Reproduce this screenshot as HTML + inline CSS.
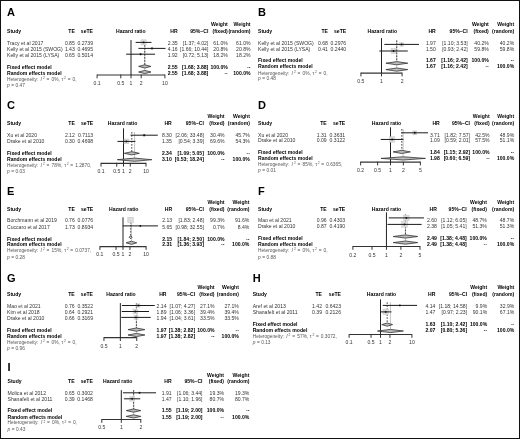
<!DOCTYPE html>
<html><head><meta charset="utf-8"><style>
html,body{margin:0;padding:0;background:#fff;}
svg{display:block;font-family:"Liberation Sans",sans-serif;will-change:transform;}
</style></head><body>
<svg width="520" height="439" viewBox="0 0 520 439">
<rect x="0" y="0" width="520" height="439" fill="#fff"/>
<text x="7.00" y="16.00" font-size="11" font-weight="bold" fill="#000">A</text>
<text x="227.80" y="26.00" font-size="5.1" font-weight="bold" text-anchor="end" fill="#000">Weight</text>
<text x="250.50" y="26.00" font-size="5.1" font-weight="bold" text-anchor="end" fill="#000">Weight</text>
<text x="7.00" y="32.70" font-size="5.1" font-weight="bold" fill="#000">Study</text>
<text x="74.80" y="32.70" font-size="5.1" font-weight="bold" text-anchor="end" fill="#000">TE</text>
<text x="93.00" y="32.70" font-size="5.1" font-weight="bold" text-anchor="end" fill="#000">seTE</text>
<text x="130.80" y="32.70" font-size="5.1" font-weight="bold" text-anchor="middle" fill="#000">Hazard ratio</text>
<text x="177.70" y="32.70" font-size="5.1" font-weight="bold" text-anchor="end" fill="#000">HR</text>
<text x="208.30" y="32.70" font-size="5.1" font-weight="bold" text-anchor="end" fill="#000">95%–CI</text>
<text x="227.80" y="32.70" font-size="5.1" font-weight="bold" text-anchor="end" fill="#000">(fixed)</text>
<text x="250.50" y="32.70" font-size="5.1" font-weight="bold" text-anchor="end" fill="#000">(random)</text>
<text x="7.00" y="44.90" font-size="5.1" fill="#333">Tracy et al 2017</text>
<text x="74.80" y="44.90" font-size="5.1" text-anchor="end" fill="#333">0.85</text>
<text x="93.00" y="44.90" font-size="5.1" text-anchor="end" fill="#333">0.2739</text>
<text x="177.70" y="44.90" font-size="5.1" text-anchor="end" fill="#333">2.35</text>
<text x="208.30" y="44.90" font-size="5.1" text-anchor="end" fill="#333">[1.37; 4.02]</text>
<text x="227.80" y="44.90" font-size="5.1" text-anchor="end" fill="#333">61.0%</text>
<text x="250.50" y="44.90" font-size="5.1" text-anchor="end" fill="#333">61.0%</text>
<text x="7.00" y="50.90" font-size="5.1" fill="#333">Kelly et al 2015 (SWOG)</text>
<text x="74.80" y="50.90" font-size="5.1" text-anchor="end" fill="#333">1.43</text>
<text x="93.00" y="50.90" font-size="5.1" text-anchor="end" fill="#333">0.4695</text>
<text x="177.70" y="50.90" font-size="5.1" text-anchor="end" fill="#333">4.16</text>
<text x="208.30" y="50.90" font-size="5.1" text-anchor="end" fill="#333">[1.66; 10.44]</text>
<text x="227.80" y="50.90" font-size="5.1" text-anchor="end" fill="#333">20.8%</text>
<text x="250.50" y="50.90" font-size="5.1" text-anchor="end" fill="#333">20.8%</text>
<text x="7.00" y="56.80" font-size="5.1" fill="#333">Kelly et al 2015 (LYSA)</text>
<text x="74.80" y="56.80" font-size="5.1" text-anchor="end" fill="#333">0.65</text>
<text x="93.00" y="56.80" font-size="5.1" text-anchor="end" fill="#333">0.5014</text>
<text x="177.70" y="56.80" font-size="5.1" text-anchor="end" fill="#333">1.92</text>
<text x="208.30" y="56.80" font-size="5.1" text-anchor="end" fill="#333">[0.72; 5.13]</text>
<text x="227.80" y="56.80" font-size="5.1" text-anchor="end" fill="#333">18.2%</text>
<text x="250.50" y="56.80" font-size="5.1" text-anchor="end" fill="#333">18.2%</text>
<text x="7.00" y="68.75" font-size="5.1" font-weight="bold" fill="#000">Fixed effect model</text>
<text x="177.70" y="68.75" font-size="5.1" font-weight="bold" text-anchor="end" fill="#000">2.55</text>
<text x="208.30" y="68.75" font-size="5.1" font-weight="bold" text-anchor="end" fill="#000">[1.68; 3.88]</text>
<text x="227.80" y="68.75" font-size="5.1" font-weight="bold" text-anchor="end" fill="#000">100.0%</text>
<text x="250.50" y="68.75" font-size="5.1" font-weight="bold" text-anchor="end" fill="#000">--</text>
<text x="7.00" y="74.60" font-size="5.1" font-weight="bold" fill="#000">Random effects model</text>
<text x="177.70" y="74.60" font-size="5.1" font-weight="bold" text-anchor="end" fill="#000">2.55</text>
<text x="208.30" y="74.60" font-size="5.1" font-weight="bold" text-anchor="end" fill="#000">[1.68; 3.88]</text>
<text x="227.80" y="74.60" font-size="5.1" font-weight="bold" text-anchor="end" fill="#000">--</text>
<text x="250.50" y="74.60" font-size="5.1" font-weight="bold" text-anchor="end" fill="#000">100.0%</text>
<text x="7.00" y="80.60" font-size="4.8" fill="#555">Heterogeneity:</text>
<text x="40.60" y="80.60" font-size="4.8" fill="#555" font-style="italic">I</text>
<text x="42.90" y="78.70" font-size="3.3" fill="#555">2</text>
<text x="46.60" y="80.60" font-size="4.8" fill="#555">=</text>
<text x="51.60" y="80.60" font-size="4.8" fill="#555">0%,</text>
<text x="61.47" y="80.60" font-size="4.8" fill="#555">τ</text>
<text x="64.07" y="78.70" font-size="3.3" fill="#555">2</text>
<text x="67.67" y="80.60" font-size="4.8" fill="#555">=</text>
<text x="72.47" y="80.60" font-size="4.8" fill="#555">0,</text>
<text x="7.00" y="86.50" font-size="4.8" fill="#555" font-style="italic">p</text>
<text x="11.20" y="86.50" font-size="4.8" fill="#555">=</text>
<text x="15.50" y="86.50" font-size="4.8" fill="#555">0.47</text>
<line x1="97.10" y1="75.00" x2="164.90" y2="75.00" stroke="#333" stroke-width="1.2"/>
<line x1="97.10" y1="74.50" x2="97.10" y2="78.30" stroke="#333" stroke-width="1.0"/>
<text x="97.10" y="85.00" font-size="5.1" text-anchor="middle" fill="#333">0.1</text>
<line x1="120.80" y1="74.50" x2="120.80" y2="78.30" stroke="#333" stroke-width="1.0"/>
<text x="120.80" y="85.00" font-size="5.1" text-anchor="middle" fill="#333">0.5</text>
<line x1="131.00" y1="74.50" x2="131.00" y2="78.30" stroke="#333" stroke-width="1.0"/>
<text x="131.00" y="85.00" font-size="5.1" text-anchor="middle" fill="#333">1</text>
<line x1="141.20" y1="74.50" x2="141.20" y2="78.30" stroke="#333" stroke-width="1.0"/>
<text x="141.20" y="85.00" font-size="5.1" text-anchor="middle" fill="#333">2</text>
<line x1="164.90" y1="74.50" x2="164.90" y2="78.30" stroke="#333" stroke-width="1.0"/>
<text x="164.90" y="85.00" font-size="5.1" text-anchor="middle" fill="#333">10</text>
<line x1="131.00" y1="40.00" x2="131.00" y2="75.00" stroke="#222" stroke-width="1.0"/>
<line x1="144.78" y1="42.00" x2="144.78" y2="70.40" stroke="#aaa" stroke-width="0.7"/>
<line x1="144.78" y1="42.00" x2="144.78" y2="64.80" stroke="#222" stroke-width="0.8" stroke-dasharray="1.7,1.3"/>
<rect x="140.98" y="39.80" width="5.20" height="5.20" fill="#dcdcdc" stroke="#c6c6c6" stroke-width="0.5"/>
<line x1="135.63" y1="42.40" x2="151.48" y2="42.40" stroke="#1a1a1a" stroke-width="1.0"/>
<circle cx="143.58" cy="42.40" r="0.95" fill="#111"/>
<rect x="151.14" y="47.55" width="1.70" height="1.70" fill="#dcdcdc" stroke="#c6c6c6" stroke-width="0.5"/>
<line x1="138.46" y1="48.40" x2="165.53" y2="48.40" stroke="#1a1a1a" stroke-width="1.0"/>
<circle cx="151.99" cy="48.40" r="0.95" fill="#111"/>
<rect x="139.85" y="53.45" width="1.50" height="1.50" fill="#dcdcdc" stroke="#c6c6c6" stroke-width="0.5"/>
<line x1="126.16" y1="54.20" x2="155.07" y2="54.20" stroke="#1a1a1a" stroke-width="1.0"/>
<circle cx="140.60" cy="54.20" r="0.95" fill="#111"/>
<polygon points="138.64,66.40 144.78,64.80 150.96,66.40 144.78,68.00" fill="#bdbdbd" stroke="#2a2a2a" stroke-width="0.75"/>
<polygon points="138.64,72.00 144.78,70.40 150.96,72.00 144.78,73.60" fill="#bdbdbd" stroke="#2a2a2a" stroke-width="0.75"/>
<text x="258.00" y="16.00" font-size="11" font-weight="bold" fill="#000">B</text>
<text x="488.80" y="26.00" font-size="5.1" font-weight="bold" text-anchor="end" fill="#000">Weight</text>
<text x="514.20" y="26.00" font-size="5.1" font-weight="bold" text-anchor="end" fill="#000">Weight</text>
<text x="258.00" y="32.70" font-size="5.1" font-weight="bold" fill="#000">Study</text>
<text x="327.90" y="32.70" font-size="5.1" font-weight="bold" text-anchor="end" fill="#000">TE</text>
<text x="346.20" y="32.70" font-size="5.1" font-weight="bold" text-anchor="end" fill="#000">seTE</text>
<text x="382.30" y="32.70" font-size="5.1" font-weight="bold" text-anchor="middle" fill="#000">Hazard ratio</text>
<text x="435.80" y="32.70" font-size="5.1" font-weight="bold" text-anchor="end" fill="#000">HR</text>
<text x="467.70" y="32.70" font-size="5.1" font-weight="bold" text-anchor="end" fill="#000">95%–CI</text>
<text x="488.80" y="32.70" font-size="5.1" font-weight="bold" text-anchor="end" fill="#000">(fixed)</text>
<text x="514.20" y="32.70" font-size="5.1" font-weight="bold" text-anchor="end" fill="#000">(random)</text>
<text x="258.00" y="44.80" font-size="5.1" fill="#333">Kelly et al 2015 (SWOG)</text>
<text x="327.90" y="44.80" font-size="5.1" text-anchor="end" fill="#333">0.68</text>
<text x="346.20" y="44.80" font-size="5.1" text-anchor="end" fill="#333">0.2976</text>
<text x="435.80" y="44.80" font-size="5.1" text-anchor="end" fill="#333">1.97</text>
<text x="467.70" y="44.80" font-size="5.1" text-anchor="end" fill="#333">[1.10; 3.53]</text>
<text x="488.80" y="44.80" font-size="5.1" text-anchor="end" fill="#333">40.2%</text>
<text x="514.20" y="44.80" font-size="5.1" text-anchor="end" fill="#333">40.2%</text>
<text x="258.00" y="50.50" font-size="5.1" fill="#333">Kelly et al 2015 (LYSA)</text>
<text x="327.90" y="50.50" font-size="5.1" text-anchor="end" fill="#333">0.41</text>
<text x="346.20" y="50.50" font-size="5.1" text-anchor="end" fill="#333">0.2440</text>
<text x="435.80" y="50.50" font-size="5.1" text-anchor="end" fill="#333">1.50</text>
<text x="467.70" y="50.50" font-size="5.1" text-anchor="end" fill="#333">[0.93; 2.42]</text>
<text x="488.80" y="50.50" font-size="5.1" text-anchor="end" fill="#333">59.8%</text>
<text x="514.20" y="50.50" font-size="5.1" text-anchor="end" fill="#333">59.8%</text>
<text x="258.00" y="62.40" font-size="5.1" font-weight="bold" fill="#000">Fixed effect model</text>
<text x="435.80" y="62.40" font-size="5.1" font-weight="bold" text-anchor="end" fill="#000">1.67</text>
<text x="467.70" y="62.40" font-size="5.1" font-weight="bold" text-anchor="end" fill="#000">[1.16; 2.42]</text>
<text x="488.80" y="62.40" font-size="5.1" font-weight="bold" text-anchor="end" fill="#000">100.0%</text>
<text x="514.20" y="62.40" font-size="5.1" font-weight="bold" text-anchor="end" fill="#000">--</text>
<text x="258.00" y="68.30" font-size="5.1" font-weight="bold" fill="#000">Random effects model</text>
<text x="435.80" y="68.30" font-size="5.1" font-weight="bold" text-anchor="end" fill="#000">1.67</text>
<text x="467.70" y="68.30" font-size="5.1" font-weight="bold" text-anchor="end" fill="#000">[1.16; 2.42]</text>
<text x="488.80" y="68.30" font-size="5.1" font-weight="bold" text-anchor="end" fill="#000">--</text>
<text x="514.20" y="68.30" font-size="5.1" font-weight="bold" text-anchor="end" fill="#000">100.0%</text>
<text x="258.00" y="74.50" font-size="4.8" fill="#555">Heterogeneity:</text>
<text x="291.60" y="74.50" font-size="4.8" fill="#555" font-style="italic">I</text>
<text x="293.90" y="72.60" font-size="3.3" fill="#555">2</text>
<text x="297.60" y="74.50" font-size="4.8" fill="#555">=</text>
<text x="302.60" y="74.50" font-size="4.8" fill="#555">0%,</text>
<text x="312.47" y="74.50" font-size="4.8" fill="#555">τ</text>
<text x="315.07" y="72.60" font-size="3.3" fill="#555">2</text>
<text x="318.67" y="74.50" font-size="4.8" fill="#555">=</text>
<text x="323.47" y="74.50" font-size="4.8" fill="#555">0,</text>
<text x="258.00" y="80.40" font-size="4.8" fill="#555" font-style="italic">p</text>
<text x="262.20" y="80.40" font-size="4.8" fill="#555">=</text>
<text x="266.50" y="80.40" font-size="4.8" fill="#555">0.48</text>
<line x1="360.91" y1="73.10" x2="402.09" y2="73.10" stroke="#333" stroke-width="1.2"/>
<line x1="360.91" y1="72.60" x2="360.91" y2="76.40" stroke="#333" stroke-width="1.0"/>
<text x="360.91" y="83.10" font-size="5.1" text-anchor="middle" fill="#333">0.5</text>
<line x1="381.50" y1="72.60" x2="381.50" y2="76.40" stroke="#333" stroke-width="1.0"/>
<text x="381.50" y="83.10" font-size="5.1" text-anchor="middle" fill="#333">1</text>
<line x1="402.09" y1="72.60" x2="402.09" y2="76.40" stroke="#333" stroke-width="1.0"/>
<text x="402.09" y="83.10" font-size="5.1" text-anchor="middle" fill="#333">2</text>
<line x1="381.50" y1="38.10" x2="381.50" y2="73.10" stroke="#222" stroke-width="1.0"/>
<line x1="396.73" y1="40.40" x2="396.73" y2="68.00" stroke="#aaa" stroke-width="0.7"/>
<line x1="396.73" y1="40.40" x2="396.73" y2="61.60" stroke="#222" stroke-width="0.8" stroke-dasharray="1.7,1.3"/>
<rect x="399.84" y="42.60" width="3.60" height="3.60" fill="#dcdcdc" stroke="#c6c6c6" stroke-width="0.5"/>
<line x1="384.33" y1="44.40" x2="418.97" y2="44.40" stroke="#1a1a1a" stroke-width="1.0"/>
<circle cx="401.64" cy="44.40" r="0.95" fill="#111"/>
<rect x="391.14" y="48.60" width="4.80" height="4.80" fill="#dcdcdc" stroke="#c6c6c6" stroke-width="0.5"/>
<line x1="379.34" y1="51.00" x2="407.75" y2="51.00" stroke="#1a1a1a" stroke-width="1.0"/>
<circle cx="393.54" cy="51.00" r="0.95" fill="#111"/>
<polygon points="385.91,63.20 396.73,61.60 407.75,63.20 396.73,64.80" fill="#bdbdbd" stroke="#2a2a2a" stroke-width="0.75"/>
<polygon points="385.91,69.60 396.73,68.00 407.75,69.60 396.73,71.20" fill="#bdbdbd" stroke="#2a2a2a" stroke-width="0.75"/>
<text x="7.00" y="109.00" font-size="11" font-weight="bold" fill="#000">C</text>
<text x="224.50" y="118.00" font-size="5.1" font-weight="bold" text-anchor="end" fill="#000">Weight</text>
<text x="249.90" y="118.00" font-size="5.1" font-weight="bold" text-anchor="end" fill="#000">Weight</text>
<text x="7.00" y="124.70" font-size="5.1" font-weight="bold" fill="#000">Study</text>
<text x="74.80" y="124.70" font-size="5.1" font-weight="bold" text-anchor="end" fill="#000">TE</text>
<text x="93.20" y="124.70" font-size="5.1" font-weight="bold" text-anchor="end" fill="#000">seTE</text>
<text x="122.60" y="124.70" font-size="5.1" font-weight="bold" text-anchor="middle" fill="#000">Hazard ratio</text>
<text x="171.80" y="124.70" font-size="5.1" font-weight="bold" text-anchor="end" fill="#000">HR</text>
<text x="203.90" y="124.70" font-size="5.1" font-weight="bold" text-anchor="end" fill="#000">95%–CI</text>
<text x="224.50" y="124.70" font-size="5.1" font-weight="bold" text-anchor="end" fill="#000">(fixed)</text>
<text x="249.90" y="124.70" font-size="5.1" font-weight="bold" text-anchor="end" fill="#000">(random)</text>
<text x="7.00" y="136.60" font-size="5.1" fill="#333">Xu et al 2020</text>
<text x="74.80" y="136.60" font-size="5.1" text-anchor="end" fill="#333">2.12</text>
<text x="93.20" y="136.60" font-size="5.1" text-anchor="end" fill="#333">0.7113</text>
<text x="171.80" y="136.60" font-size="5.1" text-anchor="end" fill="#333">8.30</text>
<text x="203.90" y="136.60" font-size="5.1" text-anchor="end" fill="#333">[2.06; 33.48]</text>
<text x="224.50" y="136.60" font-size="5.1" text-anchor="end" fill="#333">30.4%</text>
<text x="249.90" y="136.60" font-size="5.1" text-anchor="end" fill="#333">45.7%</text>
<text x="7.00" y="142.60" font-size="5.1" fill="#333">Drake et al 2010</text>
<text x="74.80" y="142.60" font-size="5.1" text-anchor="end" fill="#333">0.30</text>
<text x="93.20" y="142.60" font-size="5.1" text-anchor="end" fill="#333">0.4698</text>
<text x="171.80" y="142.60" font-size="5.1" text-anchor="end" fill="#333">1.35</text>
<text x="203.90" y="142.60" font-size="5.1" text-anchor="end" fill="#333">[0.54; 3.39]</text>
<text x="224.50" y="142.60" font-size="5.1" text-anchor="end" fill="#333">69.6%</text>
<text x="249.90" y="142.60" font-size="5.1" text-anchor="end" fill="#333">54.3%</text>
<text x="7.00" y="154.50" font-size="5.1" font-weight="bold" fill="#000">Fixed effect model</text>
<text x="171.80" y="154.50" font-size="5.1" font-weight="bold" text-anchor="end" fill="#000">2.34</text>
<text x="203.90" y="154.50" font-size="5.1" font-weight="bold" text-anchor="end" fill="#000">[1.09; 5.05]</text>
<text x="224.50" y="154.50" font-size="5.1" font-weight="bold" text-anchor="end" fill="#000">100.0%</text>
<text x="249.90" y="154.50" font-size="5.1" font-weight="bold" text-anchor="end" fill="#000">--</text>
<text x="7.00" y="160.60" font-size="5.1" font-weight="bold" fill="#000">Random effects model</text>
<text x="171.80" y="160.60" font-size="5.1" font-weight="bold" text-anchor="end" fill="#000">3.10</text>
<text x="203.90" y="160.60" font-size="5.1" font-weight="bold" text-anchor="end" fill="#000">[0.53; 18.24]</text>
<text x="224.50" y="160.60" font-size="5.1" font-weight="bold" text-anchor="end" fill="#000">--</text>
<text x="249.90" y="160.60" font-size="5.1" font-weight="bold" text-anchor="end" fill="#000">100.0%</text>
<text x="7.00" y="166.50" font-size="4.8" fill="#555">Heterogeneity:</text>
<text x="40.60" y="166.50" font-size="4.8" fill="#555" font-style="italic">I</text>
<text x="42.90" y="164.60" font-size="3.3" fill="#555">2</text>
<text x="46.60" y="166.50" font-size="4.8" fill="#555">=</text>
<text x="51.60" y="166.50" font-size="4.8" fill="#555">78%,</text>
<text x="64.14" y="166.50" font-size="4.8" fill="#555">τ</text>
<text x="66.74" y="164.60" font-size="3.3" fill="#555">2</text>
<text x="70.34" y="166.50" font-size="4.8" fill="#555">=</text>
<text x="75.14" y="166.50" font-size="4.8" fill="#555">1.2870,</text>
<text x="7.00" y="172.50" font-size="4.8" fill="#555" font-style="italic">p</text>
<text x="11.20" y="172.50" font-size="4.8" fill="#555">=</text>
<text x="15.50" y="172.50" font-size="4.8" fill="#555">0.03</text>
<line x1="101.00" y1="163.30" x2="146.00" y2="163.30" stroke="#333" stroke-width="1.2"/>
<line x1="101.00" y1="162.80" x2="101.00" y2="166.60" stroke="#333" stroke-width="1.0"/>
<text x="101.00" y="172.90" font-size="5.1" text-anchor="middle" fill="#333">0.1</text>
<line x1="116.73" y1="162.80" x2="116.73" y2="166.60" stroke="#333" stroke-width="1.0"/>
<text x="116.73" y="172.90" font-size="5.1" text-anchor="middle" fill="#333">0.5</text>
<line x1="123.50" y1="162.80" x2="123.50" y2="166.60" stroke="#333" stroke-width="1.0"/>
<text x="123.50" y="172.90" font-size="5.1" text-anchor="middle" fill="#333">1</text>
<line x1="130.27" y1="162.80" x2="130.27" y2="166.60" stroke="#333" stroke-width="1.0"/>
<text x="130.27" y="172.90" font-size="5.1" text-anchor="middle" fill="#333">2</text>
<line x1="146.00" y1="162.80" x2="146.00" y2="166.60" stroke="#333" stroke-width="1.0"/>
<text x="146.00" y="172.90" font-size="5.1" text-anchor="middle" fill="#333">10</text>
<line x1="123.50" y1="128.30" x2="123.50" y2="163.30" stroke="#222" stroke-width="1.0"/>
<line x1="134.56" y1="132.00" x2="134.56" y2="158.10" stroke="#aaa" stroke-width="0.7"/>
<line x1="131.81" y1="132.00" x2="131.81" y2="151.70" stroke="#222" stroke-width="0.8" stroke-dasharray="1.7,1.3"/>
<rect x="143.13" y="134.15" width="2.10" height="2.10" fill="#dcdcdc" stroke="#c6c6c6" stroke-width="0.5"/>
<line x1="130.56" y1="135.20" x2="157.81" y2="135.20" stroke="#1a1a1a" stroke-width="1.0"/>
<circle cx="144.18" cy="135.20" r="0.95" fill="#111"/>
<rect x="124.03" y="139.00" width="4.80" height="4.80" fill="#dcdcdc" stroke="#c6c6c6" stroke-width="0.5"/>
<line x1="117.48" y1="141.40" x2="135.43" y2="141.40" stroke="#1a1a1a" stroke-width="1.0"/>
<circle cx="126.43" cy="141.40" r="0.95" fill="#111"/>
<polygon points="124.34,153.30 131.81,151.70 139.32,153.30 131.81,154.90" fill="#bdbdbd" stroke="#2a2a2a" stroke-width="0.75"/>
<polygon points="117.30,159.70 134.56,158.10 151.87,159.70 134.56,161.30" fill="#bdbdbd" stroke="#2a2a2a" stroke-width="0.75"/>
<text x="258.00" y="109.00" font-size="11" font-weight="bold" fill="#000">D</text>
<text x="489.60" y="118.30" font-size="5.1" font-weight="bold" text-anchor="end" fill="#000">Weight</text>
<text x="514.20" y="118.30" font-size="5.1" font-weight="bold" text-anchor="end" fill="#000">Weight</text>
<text x="258.00" y="124.60" font-size="5.1" font-weight="bold" fill="#000">Study</text>
<text x="326.70" y="124.60" font-size="5.1" font-weight="bold" text-anchor="end" fill="#000">TE</text>
<text x="345.20" y="124.60" font-size="5.1" font-weight="bold" text-anchor="end" fill="#000">seTE</text>
<text x="386.50" y="124.60" font-size="5.1" font-weight="bold" text-anchor="middle" fill="#000">Hazard ratio</text>
<text x="439.80" y="124.60" font-size="5.1" font-weight="bold" text-anchor="end" fill="#000">HR</text>
<text x="470.00" y="124.60" font-size="5.1" font-weight="bold" text-anchor="end" fill="#000">95%–CI</text>
<text x="489.60" y="124.60" font-size="5.1" font-weight="bold" text-anchor="end" fill="#000">(fixed)</text>
<text x="514.20" y="124.60" font-size="5.1" font-weight="bold" text-anchor="end" fill="#000">(random)</text>
<text x="258.00" y="136.50" font-size="5.1" fill="#333">Xu et al 2020</text>
<text x="326.70" y="136.50" font-size="5.1" text-anchor="end" fill="#333">1.31</text>
<text x="345.20" y="136.50" font-size="5.1" text-anchor="end" fill="#333">0.3631</text>
<text x="439.80" y="136.50" font-size="5.1" text-anchor="end" fill="#333">3.71</text>
<text x="470.00" y="136.50" font-size="5.1" text-anchor="end" fill="#333">[1.82; 7.57]</text>
<text x="489.60" y="136.50" font-size="5.1" text-anchor="end" fill="#333">42.5%</text>
<text x="514.20" y="136.50" font-size="5.1" text-anchor="end" fill="#333">48.9%</text>
<text x="258.00" y="142.30" font-size="5.1" fill="#333">Drake et al 2010</text>
<text x="326.70" y="142.30" font-size="5.1" text-anchor="end" fill="#333">0.09</text>
<text x="345.20" y="142.30" font-size="5.1" text-anchor="end" fill="#333">0.3122</text>
<text x="439.80" y="142.30" font-size="5.1" text-anchor="end" fill="#333">1.09</text>
<text x="470.00" y="142.30" font-size="5.1" text-anchor="end" fill="#333">[0.59; 2.01]</text>
<text x="489.60" y="142.30" font-size="5.1" text-anchor="end" fill="#333">57.5%</text>
<text x="514.20" y="142.30" font-size="5.1" text-anchor="end" fill="#333">51.1%</text>
<text x="258.00" y="153.90" font-size="5.1" font-weight="bold" fill="#000">Fixed effect model</text>
<text x="439.80" y="153.90" font-size="5.1" font-weight="bold" text-anchor="end" fill="#000">1.84</text>
<text x="470.00" y="153.90" font-size="5.1" font-weight="bold" text-anchor="end" fill="#000">[1.15; 2.92]</text>
<text x="489.60" y="153.90" font-size="5.1" font-weight="bold" text-anchor="end" fill="#000">100.0%</text>
<text x="514.20" y="153.90" font-size="5.1" font-weight="bold" text-anchor="end" fill="#000">--</text>
<text x="258.00" y="160.10" font-size="5.1" font-weight="bold" fill="#000">Random effects model</text>
<text x="439.80" y="160.10" font-size="5.1" font-weight="bold" text-anchor="end" fill="#000">1.98</text>
<text x="470.00" y="160.10" font-size="5.1" font-weight="bold" text-anchor="end" fill="#000">[0.60; 6.59]</text>
<text x="489.60" y="160.10" font-size="5.1" font-weight="bold" text-anchor="end" fill="#000">--</text>
<text x="514.20" y="160.10" font-size="5.1" font-weight="bold" text-anchor="end" fill="#000">100.0%</text>
<text x="258.00" y="166.20" font-size="4.8" fill="#555">Heterogeneity:</text>
<text x="291.60" y="166.20" font-size="4.8" fill="#555" font-style="italic">I</text>
<text x="293.90" y="164.30" font-size="3.3" fill="#555">2</text>
<text x="297.60" y="166.20" font-size="4.8" fill="#555">=</text>
<text x="302.60" y="166.20" font-size="4.8" fill="#555">85%,</text>
<text x="315.14" y="166.20" font-size="4.8" fill="#555">τ</text>
<text x="317.74" y="164.30" font-size="3.3" fill="#555">2</text>
<text x="321.34" y="166.20" font-size="4.8" fill="#555">=</text>
<text x="326.14" y="166.20" font-size="4.8" fill="#555">0.6365,</text>
<text x="258.00" y="172.40" font-size="4.8" fill="#555" font-style="italic">p</text>
<text x="262.20" y="172.40" font-size="4.8" fill="#555">=</text>
<text x="266.50" y="172.40" font-size="4.8" fill="#555">0.01</text>
<line x1="360.65" y1="162.10" x2="420.35" y2="162.10" stroke="#333" stroke-width="1.2"/>
<line x1="360.65" y1="161.60" x2="360.65" y2="165.40" stroke="#333" stroke-width="1.0"/>
<text x="360.65" y="172.30" font-size="5.1" text-anchor="middle" fill="#333">0.2</text>
<line x1="377.65" y1="161.60" x2="377.65" y2="165.40" stroke="#333" stroke-width="1.0"/>
<text x="377.65" y="172.30" font-size="5.1" text-anchor="middle" fill="#333">0.5</text>
<line x1="390.50" y1="161.60" x2="390.50" y2="165.40" stroke="#333" stroke-width="1.0"/>
<text x="390.50" y="172.30" font-size="5.1" text-anchor="middle" fill="#333">1</text>
<line x1="403.35" y1="161.60" x2="403.35" y2="165.40" stroke="#333" stroke-width="1.0"/>
<text x="403.35" y="172.30" font-size="5.1" text-anchor="middle" fill="#333">2</text>
<line x1="420.35" y1="161.60" x2="420.35" y2="165.40" stroke="#333" stroke-width="1.0"/>
<text x="420.35" y="172.30" font-size="5.1" text-anchor="middle" fill="#333">5</text>
<line x1="390.50" y1="127.30" x2="390.50" y2="162.10" stroke="#222" stroke-width="1.0"/>
<line x1="403.17" y1="129.00" x2="403.17" y2="156.80" stroke="#aaa" stroke-width="0.7"/>
<line x1="401.81" y1="129.00" x2="401.81" y2="150.30" stroke="#222" stroke-width="0.8" stroke-dasharray="1.7,1.3"/>
<rect x="412.86" y="130.85" width="3.90" height="3.90" fill="#dcdcdc" stroke="#c6c6c6" stroke-width="0.5"/>
<line x1="401.61" y1="132.80" x2="428.04" y2="132.80" stroke="#1a1a1a" stroke-width="1.0"/>
<circle cx="414.81" cy="132.80" r="0.95" fill="#111"/>
<rect x="389.40" y="136.75" width="5.40" height="5.40" fill="#dcdcdc" stroke="#c6c6c6" stroke-width="0.5"/>
<line x1="380.72" y1="139.45" x2="403.45" y2="139.45" stroke="#1a1a1a" stroke-width="1.0"/>
<circle cx="392.10" cy="139.45" r="0.95" fill="#111"/>
<polygon points="393.09,151.90 401.81,150.30 410.37,151.90 401.81,153.50" fill="#bdbdbd" stroke="#2a2a2a" stroke-width="0.75"/>
<polygon points="381.03,158.40 403.17,156.80 425.47,158.40 403.17,160.00" fill="#bdbdbd" stroke="#2a2a2a" stroke-width="0.75"/>
<text x="7.00" y="194.80" font-size="11" font-weight="bold" fill="#000">E</text>
<text x="224.50" y="203.60" font-size="5.1" font-weight="bold" text-anchor="end" fill="#000">Weight</text>
<text x="249.40" y="203.60" font-size="5.1" font-weight="bold" text-anchor="end" fill="#000">Weight</text>
<text x="7.00" y="210.50" font-size="5.1" font-weight="bold" fill="#000">Study</text>
<text x="74.80" y="210.50" font-size="5.1" font-weight="bold" text-anchor="end" fill="#000">TE</text>
<text x="93.20" y="210.50" font-size="5.1" font-weight="bold" text-anchor="end" fill="#000">seTE</text>
<text x="123.70" y="210.50" font-size="5.1" font-weight="bold" text-anchor="middle" fill="#000">Hazard ratio</text>
<text x="172.20" y="210.50" font-size="5.1" font-weight="bold" text-anchor="end" fill="#000">HR</text>
<text x="203.90" y="210.50" font-size="5.1" font-weight="bold" text-anchor="end" fill="#000">95%–CI</text>
<text x="224.50" y="210.50" font-size="5.1" font-weight="bold" text-anchor="end" fill="#000">(fixed)</text>
<text x="249.40" y="210.50" font-size="5.1" font-weight="bold" text-anchor="end" fill="#000">(random)</text>
<text x="7.00" y="222.40" font-size="5.1" fill="#333">Borchmann et al 2019</text>
<text x="74.80" y="222.40" font-size="5.1" text-anchor="end" fill="#333">0.76</text>
<text x="93.20" y="222.40" font-size="5.1" text-anchor="end" fill="#333">0.0776</text>
<text x="172.20" y="222.40" font-size="5.1" text-anchor="end" fill="#333">2.13</text>
<text x="203.90" y="222.40" font-size="5.1" text-anchor="end" fill="#333">[1.83; 2.48]</text>
<text x="224.50" y="222.40" font-size="5.1" text-anchor="end" fill="#333">99.3%</text>
<text x="249.40" y="222.40" font-size="5.1" text-anchor="end" fill="#333">91.6%</text>
<text x="7.00" y="228.60" font-size="5.1" fill="#333">Cuccaro et al 2017</text>
<text x="74.80" y="228.60" font-size="5.1" text-anchor="end" fill="#333">1.73</text>
<text x="93.20" y="228.60" font-size="5.1" text-anchor="end" fill="#333">0.8934</text>
<text x="172.20" y="228.60" font-size="5.1" text-anchor="end" fill="#333">5.65</text>
<text x="203.90" y="228.60" font-size="5.1" text-anchor="end" fill="#333">[0.98; 32.55]</text>
<text x="224.50" y="228.60" font-size="5.1" text-anchor="end" fill="#333">0.7%</text>
<text x="249.40" y="228.60" font-size="5.1" text-anchor="end" fill="#333">8.4%</text>
<text x="7.00" y="240.50" font-size="5.1" font-weight="bold" fill="#000">Fixed effect model</text>
<text x="172.20" y="240.50" font-size="5.1" font-weight="bold" text-anchor="end" fill="#000">2.15</text>
<text x="203.90" y="240.50" font-size="5.1" font-weight="bold" text-anchor="end" fill="#000">[1.84; 2.50]</text>
<text x="224.50" y="240.50" font-size="5.1" font-weight="bold" text-anchor="end" fill="#000">100.0%</text>
<text x="249.40" y="240.50" font-size="5.1" font-weight="bold" text-anchor="end" fill="#000">--</text>
<text x="7.00" y="246.30" font-size="5.1" font-weight="bold" fill="#000">Random effects model</text>
<text x="172.20" y="246.30" font-size="5.1" font-weight="bold" text-anchor="end" fill="#000">2.31</text>
<text x="203.90" y="246.30" font-size="5.1" font-weight="bold" text-anchor="end" fill="#000">[1.36; 3.93]</text>
<text x="224.50" y="246.30" font-size="5.1" font-weight="bold" text-anchor="end" fill="#000">--</text>
<text x="249.40" y="246.30" font-size="5.1" font-weight="bold" text-anchor="end" fill="#000">100.0%</text>
<text x="7.00" y="252.20" font-size="4.8" fill="#555">Heterogeneity:</text>
<text x="40.60" y="252.20" font-size="4.8" fill="#555" font-style="italic">I</text>
<text x="42.90" y="250.30" font-size="3.3" fill="#555">2</text>
<text x="46.60" y="252.20" font-size="4.8" fill="#555">=</text>
<text x="51.60" y="252.20" font-size="4.8" fill="#555">15%,</text>
<text x="64.14" y="252.20" font-size="4.8" fill="#555">τ</text>
<text x="66.74" y="250.30" font-size="3.3" fill="#555">2</text>
<text x="70.34" y="252.20" font-size="4.8" fill="#555">=</text>
<text x="75.14" y="252.20" font-size="4.8" fill="#555">0.0737,</text>
<text x="7.00" y="258.50" font-size="4.8" fill="#555" font-style="italic">p</text>
<text x="11.20" y="258.50" font-size="4.8" fill="#555">=</text>
<text x="15.50" y="258.50" font-size="4.8" fill="#555">0.28</text>
<line x1="99.90" y1="246.60" x2="146.10" y2="246.60" stroke="#333" stroke-width="1.2"/>
<line x1="99.90" y1="246.10" x2="99.90" y2="249.90" stroke="#333" stroke-width="1.0"/>
<text x="99.90" y="255.90" font-size="5.1" text-anchor="middle" fill="#333">0.1</text>
<line x1="116.05" y1="246.10" x2="116.05" y2="249.90" stroke="#333" stroke-width="1.0"/>
<text x="116.05" y="255.90" font-size="5.1" text-anchor="middle" fill="#333">0.5</text>
<line x1="123.00" y1="246.10" x2="123.00" y2="249.90" stroke="#333" stroke-width="1.0"/>
<text x="123.00" y="255.90" font-size="5.1" text-anchor="middle" fill="#333">1</text>
<line x1="129.95" y1="246.10" x2="129.95" y2="249.90" stroke="#333" stroke-width="1.0"/>
<text x="129.95" y="255.90" font-size="5.1" text-anchor="middle" fill="#333">2</text>
<line x1="146.10" y1="246.10" x2="146.10" y2="249.90" stroke="#333" stroke-width="1.0"/>
<text x="146.10" y="255.90" font-size="5.1" text-anchor="middle" fill="#333">10</text>
<line x1="123.00" y1="217.30" x2="123.00" y2="246.60" stroke="#222" stroke-width="1.0"/>
<line x1="131.40" y1="218.90" x2="131.40" y2="241.20" stroke="#aaa" stroke-width="0.7"/>
<line x1="130.68" y1="218.90" x2="130.68" y2="235.60" stroke="#222" stroke-width="0.8" stroke-dasharray="1.7,1.3"/>
<rect x="127.79" y="217.25" width="5.60" height="5.60" fill="#dcdcdc" stroke="#c6c6c6" stroke-width="0.5"/>
<rect x="140.17" y="225.70" width="0.40" height="0.40" fill="#dcdcdc" stroke="#c6c6c6" stroke-width="0.5"/>
<line x1="122.80" y1="225.90" x2="157.94" y2="225.90" stroke="#1a1a1a" stroke-width="1.0"/>
<circle cx="140.37" cy="225.90" r="0.95" fill="#111"/>
<polygon points="129.12,237.20 130.68,235.60 132.19,237.20 130.68,238.80" fill="#bdbdbd" stroke="#2a2a2a" stroke-width="0.75"/>
<polygon points="126.08,242.80 131.40,241.20 136.73,242.80 131.40,244.40" fill="#bdbdbd" stroke="#2a2a2a" stroke-width="0.75"/>
<text x="258.00" y="194.80" font-size="11" font-weight="bold" fill="#000">F</text>
<text x="486.90" y="204.20" font-size="5.1" font-weight="bold" text-anchor="end" fill="#000">Weight</text>
<text x="514.20" y="204.20" font-size="5.1" font-weight="bold" text-anchor="end" fill="#000">Weight</text>
<text x="258.00" y="210.60" font-size="5.1" font-weight="bold" fill="#000">Study</text>
<text x="326.70" y="210.60" font-size="5.1" font-weight="bold" text-anchor="end" fill="#000">TE</text>
<text x="345.20" y="210.60" font-size="5.1" font-weight="bold" text-anchor="end" fill="#000">seTE</text>
<text x="386.50" y="210.60" font-size="5.1" font-weight="bold" text-anchor="middle" fill="#000">Hazard ratio</text>
<text x="436.90" y="210.60" font-size="5.1" font-weight="bold" text-anchor="end" fill="#000">HR</text>
<text x="466.70" y="210.60" font-size="5.1" font-weight="bold" text-anchor="end" fill="#000">95%–CI</text>
<text x="486.90" y="210.60" font-size="5.1" font-weight="bold" text-anchor="end" fill="#000">(fixed)</text>
<text x="514.20" y="210.60" font-size="5.1" font-weight="bold" text-anchor="end" fill="#000">(random)</text>
<text x="258.00" y="222.40" font-size="5.1" fill="#333">Mao et al 2021</text>
<text x="326.70" y="222.40" font-size="5.1" text-anchor="end" fill="#333">0.96</text>
<text x="345.20" y="222.40" font-size="5.1" text-anchor="end" fill="#333">0.4303</text>
<text x="436.90" y="222.40" font-size="5.1" text-anchor="end" fill="#333">2.60</text>
<text x="466.70" y="222.40" font-size="5.1" text-anchor="end" fill="#333">[1.12; 6.05]</text>
<text x="486.90" y="222.40" font-size="5.1" text-anchor="end" fill="#333">48.7%</text>
<text x="514.20" y="222.40" font-size="5.1" text-anchor="end" fill="#333">48.7%</text>
<text x="258.00" y="228.20" font-size="5.1" fill="#333">Drake et al 2010</text>
<text x="326.70" y="228.20" font-size="5.1" text-anchor="end" fill="#333">0.87</text>
<text x="345.20" y="228.20" font-size="5.1" text-anchor="end" fill="#333">0.4190</text>
<text x="436.90" y="228.20" font-size="5.1" text-anchor="end" fill="#333">2.38</text>
<text x="466.70" y="228.20" font-size="5.1" text-anchor="end" fill="#333">[1.05; 5.41]</text>
<text x="486.90" y="228.20" font-size="5.1" text-anchor="end" fill="#333">51.3%</text>
<text x="514.20" y="228.20" font-size="5.1" text-anchor="end" fill="#333">51.3%</text>
<text x="258.00" y="240.00" font-size="5.1" font-weight="bold" fill="#000">Fixed effect model</text>
<text x="436.90" y="240.00" font-size="5.1" font-weight="bold" text-anchor="end" fill="#000">2.49</text>
<text x="466.70" y="240.00" font-size="5.1" font-weight="bold" text-anchor="end" fill="#000">[1.38; 4.48]</text>
<text x="486.90" y="240.00" font-size="5.1" font-weight="bold" text-anchor="end" fill="#000">100.0%</text>
<text x="514.20" y="240.00" font-size="5.1" font-weight="bold" text-anchor="end" fill="#000">--</text>
<text x="258.00" y="246.20" font-size="5.1" font-weight="bold" fill="#000">Random effects model</text>
<text x="436.90" y="246.20" font-size="5.1" font-weight="bold" text-anchor="end" fill="#000">2.49</text>
<text x="466.70" y="246.20" font-size="5.1" font-weight="bold" text-anchor="end" fill="#000">[1.38; 4.48]</text>
<text x="486.90" y="246.20" font-size="5.1" font-weight="bold" text-anchor="end" fill="#000">--</text>
<text x="514.20" y="246.20" font-size="5.1" font-weight="bold" text-anchor="end" fill="#000">100.0%</text>
<text x="258.00" y="252.20" font-size="4.8" fill="#555">Heterogeneity:</text>
<text x="291.60" y="252.20" font-size="4.8" fill="#555" font-style="italic">I</text>
<text x="293.90" y="250.30" font-size="3.3" fill="#555">2</text>
<text x="297.60" y="252.20" font-size="4.8" fill="#555">=</text>
<text x="302.60" y="252.20" font-size="4.8" fill="#555">0%,</text>
<text x="312.47" y="252.20" font-size="4.8" fill="#555">τ</text>
<text x="315.07" y="250.30" font-size="3.3" fill="#555">2</text>
<text x="318.67" y="252.20" font-size="4.8" fill="#555">=</text>
<text x="323.47" y="252.20" font-size="4.8" fill="#555">0,</text>
<text x="258.00" y="258.50" font-size="4.8" fill="#555" font-style="italic">p</text>
<text x="262.20" y="258.50" font-size="4.8" fill="#555">=</text>
<text x="266.50" y="258.50" font-size="4.8" fill="#555">0.88</text>
<line x1="352.90" y1="246.50" x2="420.00" y2="246.50" stroke="#333" stroke-width="1.2"/>
<line x1="352.90" y1="246.00" x2="352.90" y2="249.80" stroke="#333" stroke-width="1.0"/>
<text x="352.90" y="256.80" font-size="5.1" text-anchor="middle" fill="#333">0.2</text>
<line x1="372.00" y1="246.00" x2="372.00" y2="249.80" stroke="#333" stroke-width="1.0"/>
<text x="372.00" y="256.80" font-size="5.1" text-anchor="middle" fill="#333">0.5</text>
<line x1="386.45" y1="246.00" x2="386.45" y2="249.80" stroke="#333" stroke-width="1.0"/>
<text x="386.45" y="256.80" font-size="5.1" text-anchor="middle" fill="#333">1</text>
<line x1="400.90" y1="246.00" x2="400.90" y2="249.80" stroke="#333" stroke-width="1.0"/>
<text x="400.90" y="256.80" font-size="5.1" text-anchor="middle" fill="#333">2</text>
<line x1="420.00" y1="246.00" x2="420.00" y2="249.80" stroke="#333" stroke-width="1.0"/>
<text x="420.00" y="256.80" font-size="5.1" text-anchor="middle" fill="#333">5</text>
<line x1="386.45" y1="212.30" x2="386.45" y2="246.50" stroke="#222" stroke-width="1.0"/>
<line x1="405.47" y1="214.50" x2="405.47" y2="241.00" stroke="#aaa" stroke-width="0.7"/>
<line x1="405.47" y1="214.50" x2="405.47" y2="234.90" stroke="#222" stroke-width="0.8" stroke-dasharray="1.7,1.3"/>
<rect x="403.62" y="215.15" width="5.50" height="5.50" fill="#dcdcdc" stroke="#c6c6c6" stroke-width="0.5"/>
<line x1="388.81" y1="217.90" x2="423.97" y2="217.90" stroke="#1a1a1a" stroke-width="1.0"/>
<circle cx="406.37" cy="217.90" r="0.95" fill="#111"/>
<rect x="401.73" y="221.60" width="5.60" height="5.60" fill="#dcdcdc" stroke="#c6c6c6" stroke-width="0.5"/>
<line x1="387.47" y1="224.40" x2="421.64" y2="224.40" stroke="#1a1a1a" stroke-width="1.0"/>
<circle cx="404.53" cy="224.40" r="0.95" fill="#111"/>
<polygon points="393.16,236.50 405.47,234.90 417.71,236.50 405.47,238.10" fill="#bdbdbd" stroke="#2a2a2a" stroke-width="0.75"/>
<polygon points="393.16,242.60 405.47,241.00 417.71,242.60 405.47,244.20" fill="#bdbdbd" stroke="#2a2a2a" stroke-width="0.75"/>
<text x="7.00" y="281.90" font-size="11" font-weight="bold" fill="#000">G</text>
<text x="214.50" y="289.00" font-size="5.1" font-weight="bold" text-anchor="end" fill="#000">Weight</text>
<text x="238.90" y="289.00" font-size="5.1" font-weight="bold" text-anchor="end" fill="#000">Weight</text>
<text x="7.00" y="295.80" font-size="5.1" font-weight="bold" fill="#000">Study</text>
<text x="74.70" y="295.80" font-size="5.1" font-weight="bold" text-anchor="end" fill="#000">TE</text>
<text x="93.00" y="295.80" font-size="5.1" font-weight="bold" text-anchor="end" fill="#000">seTE</text>
<text x="121.00" y="295.80" font-size="5.1" font-weight="bold" text-anchor="middle" fill="#000">Hazard ratio</text>
<text x="166.50" y="295.80" font-size="5.1" font-weight="bold" text-anchor="end" fill="#000">HR</text>
<text x="195.10" y="295.80" font-size="5.1" font-weight="bold" text-anchor="end" fill="#000">95%–CI</text>
<text x="214.50" y="295.80" font-size="5.1" font-weight="bold" text-anchor="end" fill="#000">(fixed)</text>
<text x="238.90" y="295.80" font-size="5.1" font-weight="bold" text-anchor="end" fill="#000">(random)</text>
<text x="7.00" y="308.00" font-size="5.1" fill="#333">Mao et al 2021</text>
<text x="74.70" y="308.00" font-size="5.1" text-anchor="end" fill="#333">0.76</text>
<text x="93.00" y="308.00" font-size="5.1" text-anchor="end" fill="#333">0.3522</text>
<text x="166.50" y="308.00" font-size="5.1" text-anchor="end" fill="#333">2.14</text>
<text x="195.10" y="308.00" font-size="5.1" text-anchor="end" fill="#333">[1.07; 4.27]</text>
<text x="214.50" y="308.00" font-size="5.1" text-anchor="end" fill="#333">27.1%</text>
<text x="238.90" y="308.00" font-size="5.1" text-anchor="end" fill="#333">27.1%</text>
<text x="7.00" y="313.80" font-size="5.1" fill="#333">Kim et al 2018</text>
<text x="74.70" y="313.80" font-size="5.1" text-anchor="end" fill="#333">0.64</text>
<text x="93.00" y="313.80" font-size="5.1" text-anchor="end" fill="#333">0.2921</text>
<text x="166.50" y="313.80" font-size="5.1" text-anchor="end" fill="#333">1.89</text>
<text x="195.10" y="313.80" font-size="5.1" text-anchor="end" fill="#333">[1.06; 3.36]</text>
<text x="214.50" y="313.80" font-size="5.1" text-anchor="end" fill="#333">39.4%</text>
<text x="238.90" y="313.80" font-size="5.1" text-anchor="end" fill="#333">39.4%</text>
<text x="7.00" y="319.70" font-size="5.1" fill="#333">Drake et al 2010</text>
<text x="74.70" y="319.70" font-size="5.1" text-anchor="end" fill="#333">0.66</text>
<text x="93.00" y="319.70" font-size="5.1" text-anchor="end" fill="#333">0.3169</text>
<text x="166.50" y="319.70" font-size="5.1" text-anchor="end" fill="#333">1.94</text>
<text x="195.10" y="319.70" font-size="5.1" text-anchor="end" fill="#333">[1.04; 3.61]</text>
<text x="214.50" y="319.70" font-size="5.1" text-anchor="end" fill="#333">33.5%</text>
<text x="238.90" y="319.70" font-size="5.1" text-anchor="end" fill="#333">33.5%</text>
<text x="7.00" y="331.90" font-size="5.1" font-weight="bold" fill="#000">Fixed effect model</text>
<text x="166.50" y="331.90" font-size="5.1" font-weight="bold" text-anchor="end" fill="#000">1.97</text>
<text x="195.10" y="331.90" font-size="5.1" font-weight="bold" text-anchor="end" fill="#000">[1.38; 2.82]</text>
<text x="214.50" y="331.90" font-size="5.1" font-weight="bold" text-anchor="end" fill="#000">100.0%</text>
<text x="238.90" y="331.90" font-size="5.1" font-weight="bold" text-anchor="end" fill="#000">--</text>
<text x="7.00" y="337.80" font-size="5.1" font-weight="bold" fill="#000">Random effects model</text>
<text x="166.50" y="337.80" font-size="5.1" font-weight="bold" text-anchor="end" fill="#000">1.97</text>
<text x="195.10" y="337.80" font-size="5.1" font-weight="bold" text-anchor="end" fill="#000">[1.38; 2.82]</text>
<text x="214.50" y="337.80" font-size="5.1" font-weight="bold" text-anchor="end" fill="#000">--</text>
<text x="238.90" y="337.80" font-size="5.1" font-weight="bold" text-anchor="end" fill="#000">100.0%</text>
<text x="7.00" y="343.80" font-size="4.8" fill="#555">Heterogeneity:</text>
<text x="40.60" y="343.80" font-size="4.8" fill="#555" font-style="italic">I</text>
<text x="42.90" y="341.90" font-size="3.3" fill="#555">2</text>
<text x="46.60" y="343.80" font-size="4.8" fill="#555">=</text>
<text x="51.60" y="343.80" font-size="4.8" fill="#555">0%,</text>
<text x="61.47" y="343.80" font-size="4.8" fill="#555">τ</text>
<text x="64.07" y="341.90" font-size="3.3" fill="#555">2</text>
<text x="67.67" y="343.80" font-size="4.8" fill="#555">=</text>
<text x="72.47" y="343.80" font-size="4.8" fill="#555">0,</text>
<text x="7.00" y="350.30" font-size="4.8" fill="#555" font-style="italic">p</text>
<text x="11.20" y="350.30" font-size="4.8" fill="#555">=</text>
<text x="15.50" y="350.30" font-size="4.8" fill="#555">0.96</text>
<line x1="103.94" y1="337.70" x2="136.76" y2="337.70" stroke="#333" stroke-width="1.2"/>
<line x1="103.94" y1="337.20" x2="103.94" y2="341.00" stroke="#333" stroke-width="1.0"/>
<text x="103.94" y="347.50" font-size="5.1" text-anchor="middle" fill="#333">0.5</text>
<line x1="120.35" y1="337.20" x2="120.35" y2="341.00" stroke="#333" stroke-width="1.0"/>
<text x="120.35" y="347.50" font-size="5.1" text-anchor="middle" fill="#333">1</text>
<line x1="136.76" y1="337.20" x2="136.76" y2="341.00" stroke="#333" stroke-width="1.0"/>
<text x="136.76" y="347.50" font-size="5.1" text-anchor="middle" fill="#333">2</text>
<line x1="120.35" y1="303.10" x2="120.35" y2="337.70" stroke="#222" stroke-width="1.0"/>
<line x1="136.40" y1="303.30" x2="136.40" y2="333.40" stroke="#aaa" stroke-width="0.7"/>
<line x1="136.40" y1="303.30" x2="136.40" y2="328.00" stroke="#222" stroke-width="0.8" stroke-dasharray="1.7,1.3"/>
<rect x="136.71" y="303.85" width="3.30" height="3.30" fill="#dcdcdc" stroke="#c6c6c6" stroke-width="0.5"/>
<line x1="121.95" y1="305.50" x2="154.71" y2="305.50" stroke="#1a1a1a" stroke-width="1.0"/>
<circle cx="138.36" cy="305.50" r="0.95" fill="#111"/>
<rect x="133.02" y="309.10" width="4.80" height="4.80" fill="#dcdcdc" stroke="#c6c6c6" stroke-width="0.5"/>
<line x1="121.73" y1="311.50" x2="149.04" y2="311.50" stroke="#1a1a1a" stroke-width="1.0"/>
<circle cx="135.42" cy="311.50" r="0.95" fill="#111"/>
<rect x="133.99" y="315.35" width="4.10" height="4.10" fill="#dcdcdc" stroke="#c6c6c6" stroke-width="0.5"/>
<line x1="121.28" y1="317.40" x2="150.73" y2="317.40" stroke="#1a1a1a" stroke-width="1.0"/>
<circle cx="136.04" cy="317.40" r="0.95" fill="#111"/>
<polygon points="127.97,329.60 136.40,328.00 144.89,329.60 136.40,331.20" fill="#bdbdbd" stroke="#2a2a2a" stroke-width="0.75"/>
<polygon points="127.97,335.00 136.40,333.40 144.89,335.00 136.40,336.60" fill="#bdbdbd" stroke="#2a2a2a" stroke-width="0.75"/>
<text x="252.70" y="281.90" font-size="11" font-weight="bold" fill="#000">H</text>
<text x="487.20" y="289.00" font-size="5.1" font-weight="bold" text-anchor="end" fill="#000">Weight</text>
<text x="514.30" y="289.00" font-size="5.1" font-weight="bold" text-anchor="end" fill="#000">Weight</text>
<text x="252.70" y="295.70" font-size="5.1" font-weight="bold" fill="#000">Study</text>
<text x="322.00" y="295.70" font-size="5.1" font-weight="bold" text-anchor="end" fill="#000">TE</text>
<text x="341.00" y="295.70" font-size="5.1" font-weight="bold" text-anchor="end" fill="#000">seTE</text>
<text x="381.50" y="295.70" font-size="5.1" font-weight="bold" text-anchor="middle" fill="#000">Hazard ratio</text>
<text x="435.40" y="295.70" font-size="5.1" font-weight="bold" text-anchor="end" fill="#000">HR</text>
<text x="467.10" y="295.70" font-size="5.1" font-weight="bold" text-anchor="end" fill="#000">95%–CI</text>
<text x="487.20" y="295.70" font-size="5.1" font-weight="bold" text-anchor="end" fill="#000">(fixed)</text>
<text x="514.30" y="295.70" font-size="5.1" font-weight="bold" text-anchor="end" fill="#000">(random)</text>
<text x="252.70" y="307.80" font-size="5.1" fill="#333">Aref et al 2013</text>
<text x="322.00" y="307.80" font-size="5.1" text-anchor="end" fill="#333">1.42</text>
<text x="341.00" y="307.80" font-size="5.1" text-anchor="end" fill="#333">0.6423</text>
<text x="435.40" y="307.80" font-size="5.1" text-anchor="end" fill="#333">4.14</text>
<text x="467.10" y="307.80" font-size="5.1" text-anchor="end" fill="#333">[1.18; 14.58]</text>
<text x="487.20" y="307.80" font-size="5.1" text-anchor="end" fill="#333">9.9%</text>
<text x="514.30" y="307.80" font-size="5.1" text-anchor="end" fill="#333">32.9%</text>
<text x="252.70" y="313.70" font-size="5.1" fill="#333">Shanafelt et al 2011</text>
<text x="322.00" y="313.70" font-size="5.1" text-anchor="end" fill="#333">0.39</text>
<text x="341.00" y="313.70" font-size="5.1" text-anchor="end" fill="#333">0.2126</text>
<text x="435.40" y="313.70" font-size="5.1" text-anchor="end" fill="#333">1.47</text>
<text x="467.10" y="313.70" font-size="5.1" text-anchor="end" fill="#333">[0.97; 2.23]</text>
<text x="487.20" y="313.70" font-size="5.1" text-anchor="end" fill="#333">90.1%</text>
<text x="514.30" y="313.70" font-size="5.1" text-anchor="end" fill="#333">67.1%</text>
<text x="252.70" y="325.60" font-size="5.1" font-weight="bold" fill="#000">Fixed effect model</text>
<text x="435.40" y="325.60" font-size="5.1" font-weight="bold" text-anchor="end" fill="#000">1.63</text>
<text x="467.10" y="325.60" font-size="5.1" font-weight="bold" text-anchor="end" fill="#000">[1.10; 2.42]</text>
<text x="487.20" y="325.60" font-size="5.1" font-weight="bold" text-anchor="end" fill="#000">100.0%</text>
<text x="514.30" y="325.60" font-size="5.1" font-weight="bold" text-anchor="end" fill="#000">--</text>
<text x="252.70" y="331.50" font-size="5.1" font-weight="bold" fill="#000">Random effects model</text>
<text x="435.40" y="331.50" font-size="5.1" font-weight="bold" text-anchor="end" fill="#000">2.07</text>
<text x="467.10" y="331.50" font-size="5.1" font-weight="bold" text-anchor="end" fill="#000">[0.80; 5.36]</text>
<text x="487.20" y="331.50" font-size="5.1" font-weight="bold" text-anchor="end" fill="#000">--</text>
<text x="514.30" y="331.50" font-size="5.1" font-weight="bold" text-anchor="end" fill="#000">100.0%</text>
<text x="252.70" y="337.80" font-size="4.8" fill="#555">Heterogeneity:</text>
<text x="286.30" y="337.80" font-size="4.8" fill="#555" font-style="italic">I</text>
<text x="288.60" y="335.90" font-size="3.3" fill="#555">2</text>
<text x="292.30" y="337.80" font-size="4.8" fill="#555">=</text>
<text x="297.30" y="337.80" font-size="4.8" fill="#555">57%,</text>
<text x="309.84" y="337.80" font-size="4.8" fill="#555">τ</text>
<text x="312.44" y="335.90" font-size="3.3" fill="#555">2</text>
<text x="316.04" y="337.80" font-size="4.8" fill="#555">=</text>
<text x="320.84" y="337.80" font-size="4.8" fill="#555">0.3072,</text>
<text x="252.70" y="344.30" font-size="4.8" fill="#555" font-style="italic">p</text>
<text x="256.90" y="344.30" font-size="4.8" fill="#555">=</text>
<text x="261.20" y="344.30" font-size="4.8" fill="#555">0.13</text>
<line x1="349.10" y1="334.50" x2="411.90" y2="334.50" stroke="#333" stroke-width="1.2"/>
<line x1="349.10" y1="334.00" x2="349.10" y2="337.80" stroke="#333" stroke-width="1.0"/>
<text x="349.10" y="343.70" font-size="5.1" text-anchor="middle" fill="#333">0.1</text>
<line x1="371.05" y1="334.00" x2="371.05" y2="337.80" stroke="#333" stroke-width="1.0"/>
<text x="371.05" y="343.70" font-size="5.1" text-anchor="middle" fill="#333">0.5</text>
<line x1="380.50" y1="334.00" x2="380.50" y2="337.80" stroke="#333" stroke-width="1.0"/>
<text x="380.50" y="343.70" font-size="5.1" text-anchor="middle" fill="#333">1</text>
<line x1="389.95" y1="334.00" x2="389.95" y2="337.80" stroke="#333" stroke-width="1.0"/>
<text x="389.95" y="343.70" font-size="5.1" text-anchor="middle" fill="#333">2</text>
<line x1="411.90" y1="334.00" x2="411.90" y2="337.80" stroke="#333" stroke-width="1.0"/>
<text x="411.90" y="343.70" font-size="5.1" text-anchor="middle" fill="#333">10</text>
<line x1="380.50" y1="299.40" x2="380.50" y2="334.50" stroke="#222" stroke-width="1.0"/>
<line x1="390.42" y1="302.30" x2="390.42" y2="329.40" stroke="#aaa" stroke-width="0.7"/>
<line x1="387.16" y1="302.30" x2="387.16" y2="323.00" stroke="#222" stroke-width="0.8" stroke-dasharray="1.7,1.3"/>
<rect x="399.57" y="305.10" width="0.60" height="0.60" fill="#dcdcdc" stroke="#c6c6c6" stroke-width="0.5"/>
<line x1="382.76" y1="305.40" x2="417.04" y2="305.40" stroke="#1a1a1a" stroke-width="1.0"/>
<circle cx="399.87" cy="305.40" r="0.95" fill="#111"/>
<rect x="382.95" y="309.10" width="5.60" height="5.60" fill="#dcdcdc" stroke="#c6c6c6" stroke-width="0.5"/>
<line x1="380.08" y1="311.90" x2="391.44" y2="311.90" stroke="#1a1a1a" stroke-width="1.0"/>
<circle cx="385.75" cy="311.90" r="0.95" fill="#111"/>
<polygon points="381.80,324.60 387.16,323.00 392.55,324.60 387.16,326.20" fill="#bdbdbd" stroke="#2a2a2a" stroke-width="0.75"/>
<polygon points="377.46,331.00 390.42,329.40 403.40,331.00 390.42,332.60" fill="#bdbdbd" stroke="#2a2a2a" stroke-width="0.75"/>
<text x="7.50" y="370.70" font-size="11" font-weight="bold" fill="#000">I</text>
<text x="224.00" y="376.60" font-size="5.1" font-weight="bold" text-anchor="end" fill="#000">Weight</text>
<text x="249.40" y="376.60" font-size="5.1" font-weight="bold" text-anchor="end" fill="#000">Weight</text>
<text x="7.50" y="382.90" font-size="5.1" font-weight="bold" fill="#000">Study</text>
<text x="74.60" y="382.90" font-size="5.1" font-weight="bold" text-anchor="end" fill="#000">TE</text>
<text x="92.90" y="382.90" font-size="5.1" font-weight="bold" text-anchor="end" fill="#000">seTE</text>
<text x="117.70" y="382.90" font-size="5.1" font-weight="bold" text-anchor="middle" fill="#000">Hazard ratio</text>
<text x="171.60" y="382.90" font-size="5.1" font-weight="bold" text-anchor="end" fill="#000">HR</text>
<text x="202.50" y="382.90" font-size="5.1" font-weight="bold" text-anchor="end" fill="#000">95%–CI</text>
<text x="224.00" y="382.90" font-size="5.1" font-weight="bold" text-anchor="end" fill="#000">(fixed)</text>
<text x="249.40" y="382.90" font-size="5.1" font-weight="bold" text-anchor="end" fill="#000">(random)</text>
<text x="7.50" y="394.70" font-size="5.1" fill="#333">Molica et al 2012</text>
<text x="74.60" y="394.70" font-size="5.1" text-anchor="end" fill="#333">0.65</text>
<text x="92.90" y="394.70" font-size="5.1" text-anchor="end" fill="#333">0.3002</text>
<text x="171.60" y="394.70" font-size="5.1" text-anchor="end" fill="#333">1.91</text>
<text x="202.50" y="394.70" font-size="5.1" text-anchor="end" fill="#333">[1.06; 3.44]</text>
<text x="224.00" y="394.70" font-size="5.1" text-anchor="end" fill="#333">19.3%</text>
<text x="249.40" y="394.70" font-size="5.1" text-anchor="end" fill="#333">19.3%</text>
<text x="7.50" y="400.90" font-size="5.1" fill="#333">Shanafelt et al 2011</text>
<text x="74.60" y="400.90" font-size="5.1" text-anchor="end" fill="#333">0.39</text>
<text x="92.90" y="400.90" font-size="5.1" text-anchor="end" fill="#333">0.1468</text>
<text x="171.60" y="400.90" font-size="5.1" text-anchor="end" fill="#333">1.47</text>
<text x="202.50" y="400.90" font-size="5.1" text-anchor="end" fill="#333">[1.10; 1.96]</text>
<text x="224.00" y="400.90" font-size="5.1" text-anchor="end" fill="#333">80.7%</text>
<text x="249.40" y="400.90" font-size="5.1" text-anchor="end" fill="#333">80.7%</text>
<text x="7.50" y="412.40" font-size="5.1" font-weight="bold" fill="#000">Fixed effect model</text>
<text x="171.60" y="412.40" font-size="5.1" font-weight="bold" text-anchor="end" fill="#000">1.55</text>
<text x="202.50" y="412.40" font-size="5.1" font-weight="bold" text-anchor="end" fill="#000">[1.19; 2.00]</text>
<text x="224.00" y="412.40" font-size="5.1" font-weight="bold" text-anchor="end" fill="#000">100.0%</text>
<text x="249.40" y="412.40" font-size="5.1" font-weight="bold" text-anchor="end" fill="#000">--</text>
<text x="7.50" y="418.60" font-size="5.1" font-weight="bold" fill="#000">Random effects model</text>
<text x="171.60" y="418.60" font-size="5.1" font-weight="bold" text-anchor="end" fill="#000">1.55</text>
<text x="202.50" y="418.60" font-size="5.1" font-weight="bold" text-anchor="end" fill="#000">[1.19; 2.00]</text>
<text x="224.00" y="418.60" font-size="5.1" font-weight="bold" text-anchor="end" fill="#000">--</text>
<text x="249.40" y="418.60" font-size="5.1" font-weight="bold" text-anchor="end" fill="#000">100.0%</text>
<text x="7.50" y="424.40" font-size="4.8" fill="#555">Heterogeneity:</text>
<text x="41.10" y="424.40" font-size="4.8" fill="#555" font-style="italic">I</text>
<text x="43.40" y="422.50" font-size="3.3" fill="#555">2</text>
<text x="47.10" y="424.40" font-size="4.8" fill="#555">=</text>
<text x="52.10" y="424.40" font-size="4.8" fill="#555">0%,</text>
<text x="61.97" y="424.40" font-size="4.8" fill="#555">τ</text>
<text x="64.57" y="422.50" font-size="3.3" fill="#555">2</text>
<text x="68.17" y="424.40" font-size="4.8" fill="#555">=</text>
<text x="72.97" y="424.40" font-size="4.8" fill="#555">0,</text>
<text x="7.50" y="430.50" font-size="4.8" fill="#555" font-style="italic">p</text>
<text x="11.70" y="430.50" font-size="4.8" fill="#555">=</text>
<text x="16.00" y="430.50" font-size="4.8" fill="#555">0.43</text>
<line x1="101.79" y1="419.50" x2="140.81" y2="419.50" stroke="#333" stroke-width="1.2"/>
<line x1="101.79" y1="419.00" x2="101.79" y2="422.80" stroke="#333" stroke-width="1.0"/>
<text x="101.79" y="429.00" font-size="5.1" text-anchor="middle" fill="#333">0.5</text>
<line x1="121.30" y1="419.00" x2="121.30" y2="422.80" stroke="#333" stroke-width="1.0"/>
<text x="121.30" y="429.00" font-size="5.1" text-anchor="middle" fill="#333">1</text>
<line x1="140.81" y1="419.00" x2="140.81" y2="422.80" stroke="#333" stroke-width="1.0"/>
<text x="140.81" y="429.00" font-size="5.1" text-anchor="middle" fill="#333">2</text>
<line x1="121.30" y1="390.10" x2="121.30" y2="419.50" stroke="#222" stroke-width="1.0"/>
<line x1="133.63" y1="390.10" x2="133.63" y2="414.80" stroke="#aaa" stroke-width="0.7"/>
<line x1="133.63" y1="390.10" x2="133.63" y2="409.00" stroke="#222" stroke-width="0.8" stroke-dasharray="1.7,1.3"/>
<rect x="138.96" y="392.25" width="1.10" height="1.10" fill="#dcdcdc" stroke="#c6c6c6" stroke-width="0.5"/>
<line x1="122.94" y1="392.80" x2="156.07" y2="392.80" stroke="#1a1a1a" stroke-width="1.0"/>
<circle cx="139.51" cy="392.80" r="0.95" fill="#111"/>
<rect x="129.84" y="396.50" width="4.60" height="4.60" fill="#dcdcdc" stroke="#c6c6c6" stroke-width="0.5"/>
<line x1="123.98" y1="398.80" x2="140.24" y2="398.80" stroke="#1a1a1a" stroke-width="1.0"/>
<circle cx="132.14" cy="398.80" r="0.95" fill="#111"/>
<polygon points="126.20,410.60 133.63,409.00 140.81,410.60 133.63,412.20" fill="#bdbdbd" stroke="#2a2a2a" stroke-width="0.75"/>
<polygon points="126.20,416.40 133.63,414.80 140.81,416.40 133.63,418.00" fill="#bdbdbd" stroke="#2a2a2a" stroke-width="0.75"/>
<rect x="0.5" y="0.5" width="519" height="438" fill="none" stroke="#111" stroke-width="1"/>
</svg>
</body></html>
